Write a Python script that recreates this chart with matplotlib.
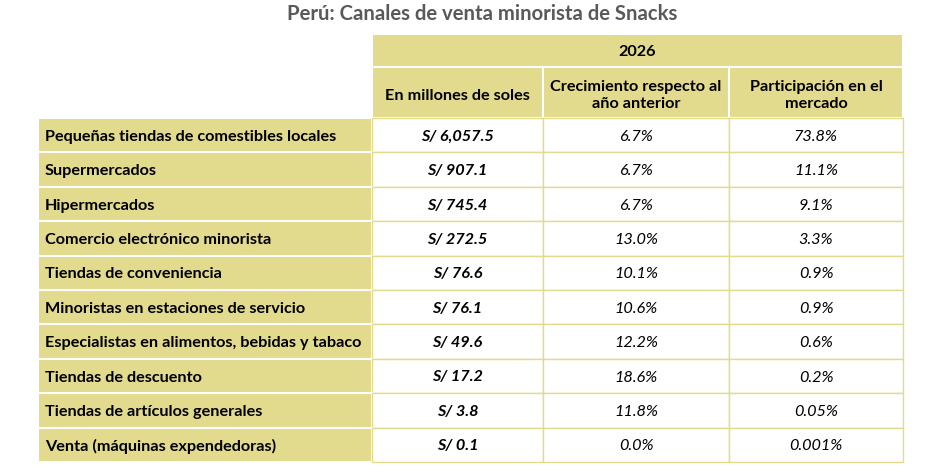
import matplotlib

matplotlib.use("Agg")
import matplotlib.pyplot as plt
from matplotlib.patches import Rectangle

plt.rcParams["font.family"] = ["Lato", "DejaVu Sans"]

FILL = "#E2DA8C"
LINE = "#E2DA8C"
TEXT = "#000000"
TITLE_GREY = "#595959"

TITLE = "Perú: Canales de venta minorista de Snacks"
YEAR = "2026"
COL_HEADERS = ["En millones de soles",
               "Crecimiento respecto al\naño anterior",
               "Participación en el\nmercado"]
CHANNELS = [
    "Pequeñas tiendas de comestibles locales",
    "Supermercados",
    "Hipermercados",
    "Comercio electrónico minorista",
    "Tiendas de conveniencia",
    "Minoristas en estaciones de servicio",
    "Especialistas en alimentos, bebidas y tabaco",
    "Tiendas de descuento",
    "Tiendas de artículos generales",
    "Venta (máquinas expendedoras)",
]
SALES = [6057.5, 907.1, 745.4, 272.5, 76.6, 76.1, 49.6, 17.2, 3.8, 0.1]
GROWTH = ["6.7%", "6.7%", "6.7%", "13.0%", "10.1%", "10.6%", "12.2%",
          "18.6%", "11.8%", "0.0%"]
SHARE = ["73.8%", "11.1%", "9.1%", "3.3%", "0.9%", "0.9%", "0.6%",
         "0.2%", "0.05%", "0.001%"]

W, H = 931, 473
fig = plt.figure(figsize=(W / 100, H / 100), dpi=100, facecolor="white")
ax = fig.add_axes([0, 0, 1, 1])
ax.set_xlim(0, W)
ax.set_ylim(H, 0)
ax.axis("off")

# geometry (pixels)
lab_x0, lab_x1 = 38, 372
cols = [372, 543, 729, 903]
h1_y0, h1_y1 = 34, 67
h2_y1 = 118
row_h = (462 - h2_y1) / len(CHANNELS)
FS = 11.7
DY = 1.5  # text sits a touch below cell centre

ax.text(482, 14, TITLE, ha="center", va="center", color=TITLE_GREY,
        fontsize=14.6, fontweight="bold")

# header: year band
ax.add_patch(Rectangle((cols[0], h1_y0), cols[-1] - cols[0], h1_y1 - h1_y0,
                       facecolor=FILL, edgecolor="white", lw=1.5))
ax.text((cols[0] + cols[-1]) / 2, (h1_y0 + h1_y1) / 2 + DY, YEAR,
        ha="center", va="center", color=TEXT, fontsize=FS, fontweight="bold")

# header: column titles
for i, label in enumerate(COL_HEADERS):
    ax.add_patch(Rectangle((cols[i], h1_y1), cols[i + 1] - cols[i],
                           h2_y1 - h1_y1, facecolor=FILL, edgecolor="white",
                           lw=1.5))
    ax.text((cols[i] + cols[i + 1]) / 2, (h1_y1 + h2_y1) / 2 + 3, label,
            ha="center", va="center", color=TEXT, fontsize=FS,
            fontweight="bold", linespacing=1.3)

# body rows
for r, name in enumerate(CHANNELS):
    y0 = h2_y1 + r * row_h
    yc = y0 + row_h / 2 + DY
    ax.add_patch(Rectangle((lab_x0, y0), lab_x1 - lab_x0, row_h,
                           facecolor=FILL, edgecolor="white", lw=1.5))
    ax.text(lab_x0 + 7, yc, name, ha="left", va="center", color=TEXT,
            fontsize=FS, fontweight="bold")
    for i in range(3):
        ax.add_patch(Rectangle((cols[i], y0), cols[i + 1] - cols[i], row_h,
                               facecolor="white", edgecolor=LINE, lw=1.0,
                               zorder=1))
    ax.text((cols[0] + cols[1]) / 2, yc, f"S/ {SALES[r]:,.1f}", ha="center",
            va="center", color=TEXT, fontsize=FS, fontweight="bold",
            style="italic")
    ax.text((cols[1] + cols[2]) / 2, yc, GROWTH[r], ha="center", va="center",
            color=TEXT, fontsize=FS, style="italic")
    ax.text((cols[2] + cols[3]) / 2, yc, SHARE[r], ha="center", va="center",
            color=TEXT, fontsize=FS, style="italic")

fig.savefig("out.png", dpi=100, facecolor="white")
